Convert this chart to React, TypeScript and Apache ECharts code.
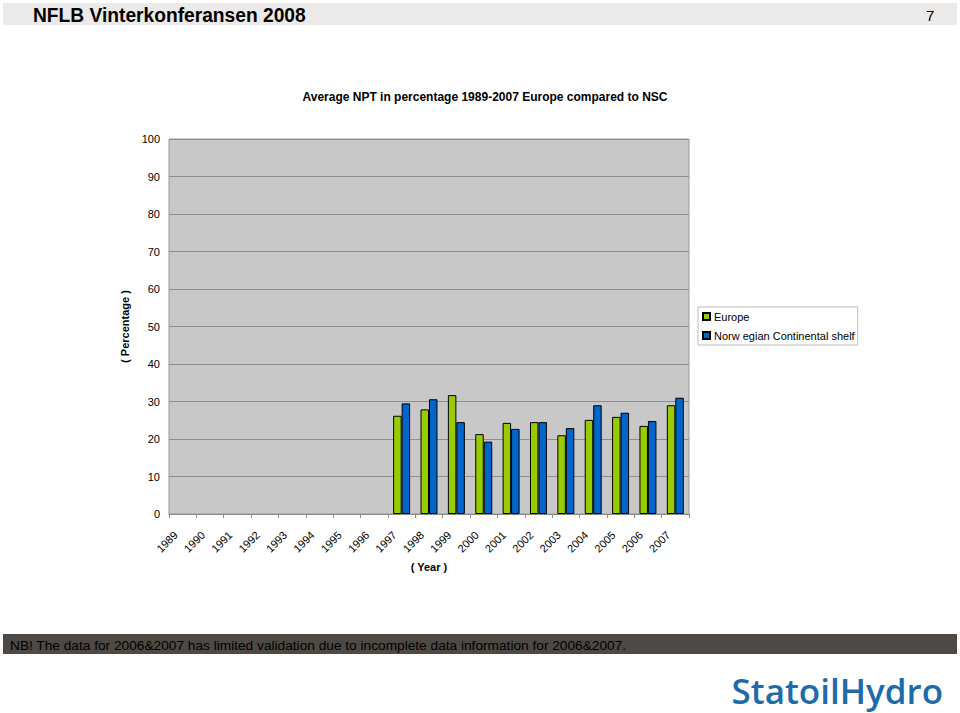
import React, { useEffect, useRef } from "react";
import * as echarts from "echarts";

const years = ["1989","1990","1991","1992","1993","1994","1995","1996","1997","1998","1999","2000","2001","2002","2003","2004","2005","2006","2007"];
const europe = [null,null,null,null,null,null,null,null,26.2,27.9,31.7,21.3,24.3,24.5,21.0,25.1,25.9,23.5,29.0];
const ncs = [null,null,null,null,null,null,null,null,29.5,30.6,24.5,19.3,22.7,24.5,22.9,29.0,27.0,24.8,31.0];
const seriesNames = ["Europe", "Norw egian Continental shelf"];
const yTicks = { min: 0, max: 100, interval: 10 };

const FONT = "'Liberation Sans', Arial, sans-serif";

export default function App() {
  const ref = useRef<HTMLDivElement>(null);
  useEffect(() => {
    if (!ref.current) return;
    const chart = echarts.init(ref.current, undefined, { renderer: "svg" });
    chart.setOption({
      animation: false,
      backgroundColor: "#ffffff",
      textStyle: { fontFamily: FONT },
      graphic: [
        { type: "rect", shape: { x: 3, y: 3, width: 954, height: 22 }, style: { fill: "#ECEAE8" }, silent: true },
        { type: "text", x: 33, y: 15, scaleX: 0.96, style: { text: "NFLB Vinterkonferansen 2008", font: "bold 20px 'Liberation Sans', sans-serif", fill: "#000", textVerticalAlign: "middle" } },
        { type: "text", x: 926, y: 15, style: { text: "7", font: "15px 'Liberation Sans', sans-serif", fill: "#000", textVerticalAlign: "middle" } },
        { type: "text", x: 485, y: 97, style: { text: "Average NPT in percentage 1989-2007 Europe compared to NSC", font: "bold 12px " + FONT, fill: "#000", textAlign: "center", textVerticalAlign: "middle" } },
        { type: "rect", shape: { x: 3, y: 634, width: 954, height: 20 }, style: { fill: "#4E4944" }, silent: true },
        { type: "text", x: 10, y: 645, style: { text: "NB! The data for 2006&2007 has limited validation due to incomplete data information for 2006&2007.", font: "13.7px " + FONT, fill: "#000", textVerticalAlign: "middle" } },
        { type: "text", x: 943, y: 690, style: { text: "StatoilHydro", font: "600 35px 'Open Sans', sans-serif", fill: "#1E6BAA", textAlign: "right", textVerticalAlign: "middle" } }
      ],
      legend: {
        orient: "vertical",
        left: 698,
        top: 307,
        backgroundColor: "#ffffff",
        borderColor: "#BDBDBD",
        borderWidth: 1,
        padding: [4, 3, 4, 4],
        itemGap: 8,
        itemWidth: 7,
        itemHeight: 7,
        icon: "rect",
        textStyle: { fontSize: 11, color: "#000", fontFamily: FONT, padding: [0, 0, 0, -1] },
        data: seriesNames
      },
      grid: { left: 169, top: 139, width: 520, height: 375, show: true, backgroundColor: "#C8C8C8", borderColor: "#9A9A9A", borderWidth: 1 },
      xAxis: {
        type: "category",
        data: years,
        name: "( Year )",
        nameLocation: "middle",
        nameGap: 46,
        nameTextStyle: { fontWeight: "bold", fontSize: 11, color: "#000" },
        axisLine: { lineStyle: { color: "#8A8A8A" } },
        axisTick: { show: true, length: 4, lineStyle: { color: "#8A8A8A" } },
        axisLabel: { rotate: 45, fontSize: 11, color: "#000", margin: 12, padding: [0, 10, 0, 0], interval: 0 }
      },
      yAxis: {
        type: "value",
        min: yTicks.min,
        max: yTicks.max,
        interval: yTicks.interval,
        name: "( Percentage )",
        nameLocation: "middle",
        nameGap: 36,
        nameTextStyle: { fontWeight: "bold", fontSize: 11, color: "#000" },
        axisLine: { show: false },
        axisTick: { show: false },
        axisLabel: { fontSize: 11, color: "#000", margin: 9 },
        splitLine: { lineStyle: { color: "#8E8E8E", width: 1 } }
      },
      series: [
        { name: seriesNames[0], type: "bar", data: europe, barGap: "0%", barCategoryGap: "38%", itemStyle: { color: "#99CC00", borderColor: "#000", borderWidth: 1 } },
        { name: seriesNames[1], type: "bar", data: ncs, barGap: "0%", barCategoryGap: "38%", itemStyle: { color: "#0066CC", borderColor: "#000", borderWidth: 1 } }
      ]
    });
    return () => chart.dispose();
  }, []);
  return <div ref={ref} style={{ position: "fixed", left: 0, top: 0, width: 960, height: 713 }} />;
}
